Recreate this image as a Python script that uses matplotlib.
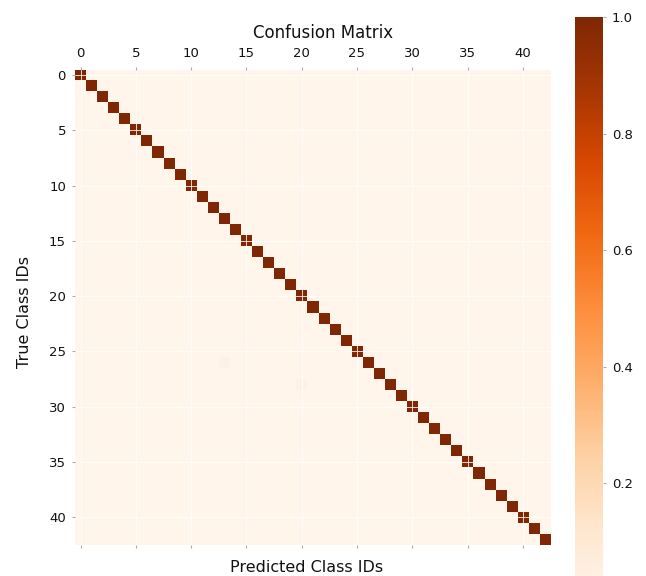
import numpy as np
import matplotlib
matplotlib.use("Agg")
import matplotlib.pyplot as plt

# 43 classes, row-normalised confusion matrix
class_ids = list(range(43))
diag_values = [1.0] * 43
# faint off-diagonal confusions (row, col, value)
off_diag = [(26, 13, 0.02), (28, 20, 0.02)]
tick_ids = [0, 5, 10, 15, 20, 25, 30, 35, 40]
cbar_ticks = [0.2, 0.4, 0.6, 0.8, 1.0]

n = len(class_ids)
cm = np.zeros((n, n))
cm[class_ids, class_ids] = diag_values
for r, c, v in off_diag:
    cm[r, c] = v

plt.rcParams['font.family'] = ['DejaVu Sans']

W, H = 646, 576
fig = plt.figure(figsize=(W / 100, H / 100), dpi=100)

ax = fig.add_axes([74.5 / W, 1 - 545 / H, 476.5 / W, 475.5 / H])
im = ax.matshow(cm, cmap='Oranges', vmin=0, vmax=1)

ax.set_xticks(tick_ids)
ax.set_yticks(tick_ids)
ax.tick_params(axis='both', length=2.5, width=0.8, color='#aaaaaa',
               labelsize=9.5, labelcolor='#111111', pad=4)
ax.grid(True, color='white', linewidth=0.7, alpha=0.8)
for s in ax.spines.values():
    s.set_visible(False)

fig.text(323 / W, 1 - 33 / H, 'Confusion Matrix', ha='center', va='center',
         fontsize=12, color='#111111')
fig.text(307 / W, 1 - 567 / H, 'Predicted Class IDs', ha='center', va='center',
         fontsize=11.5, color='#111111')
fig.text(25 / W, 1 - 312 / H, 'True Class IDs', ha='center', va='center',
         rotation=90, fontsize=11.5, color='#111111')

# colorbar runs past the bottom edge (the reference is cropped there)
cax = fig.add_axes([575 / W, 1 - 600 / H, 28 / W, 583 / H])
cb = fig.colorbar(im, cax=cax)
cb.set_ticks(cbar_ticks)
cb.outline.set_visible(False)
cax.tick_params(length=2.5, width=0.8, color='#aaaaaa', labelsize=9.5,
                labelcolor='#111111', pad=4)

fig.savefig('out.png', dpi=100)
